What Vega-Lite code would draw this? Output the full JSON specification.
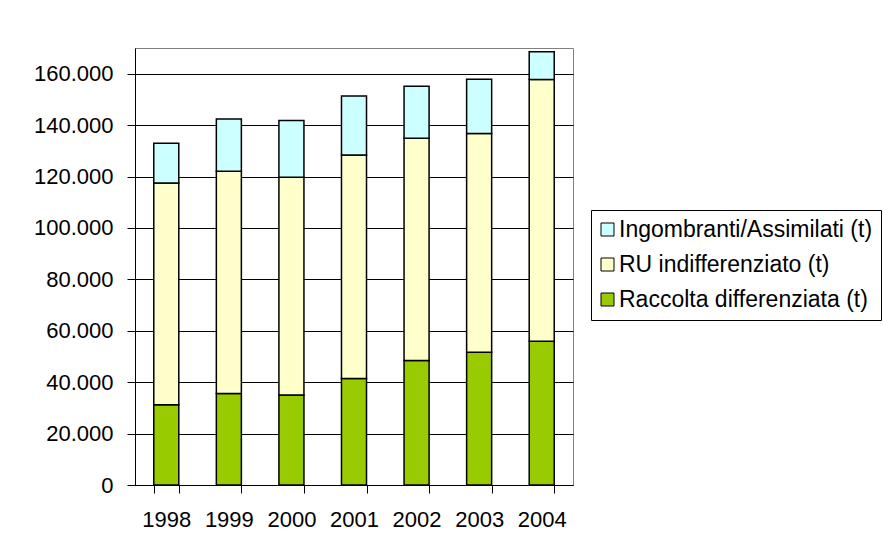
{
  "$schema": "https://vega.github.io/schema/vega-lite/v6.json",
  "autosize": {"type": "none"},
  "padding": {"left": 135, "top": 48, "right": 310, "bottom": 67},
  "width": 438,
  "height": 437,
  "background": "white",
  "config": {
    "locale": {"number": {"decimal": ",", "thousands": ".", "grouping": [3], "currency": ["€", ""]}},
    "font": "Liberation Sans",
    "view": {"stroke": "#808080", "strokeWidth": 1}
  },
  "data": {
    "values": [
      {"anno": "1998", "tipo": "Raccolta differenziata (t)", "ord": 1, "t": 31200},
      {"anno": "1999", "tipo": "Raccolta differenziata (t)", "ord": 1, "t": 35600},
      {"anno": "2000", "tipo": "Raccolta differenziata (t)", "ord": 1, "t": 35000},
      {"anno": "2001", "tipo": "Raccolta differenziata (t)", "ord": 1, "t": 41400},
      {"anno": "2002", "tipo": "Raccolta differenziata (t)", "ord": 1, "t": 48400},
      {"anno": "2003", "tipo": "Raccolta differenziata (t)", "ord": 1, "t": 51600},
      {"anno": "2004", "tipo": "Raccolta differenziata (t)", "ord": 1, "t": 55900},
      {"anno": "1998", "tipo": "RU indifferenziato (t)", "ord": 2, "t": 86300},
      {"anno": "1999", "tipo": "RU indifferenziato (t)", "ord": 2, "t": 86500},
      {"anno": "2000", "tipo": "RU indifferenziato (t)", "ord": 2, "t": 84700},
      {"anno": "2001", "tipo": "RU indifferenziato (t)", "ord": 2, "t": 87000},
      {"anno": "2002", "tipo": "RU indifferenziato (t)", "ord": 2, "t": 86500},
      {"anno": "2003", "tipo": "RU indifferenziato (t)", "ord": 2, "t": 85100},
      {"anno": "2004", "tipo": "RU indifferenziato (t)", "ord": 2, "t": 101800},
      {"anno": "1998", "tipo": "Ingombranti/Assimilati (t)", "ord": 3, "t": 15400},
      {"anno": "1999", "tipo": "Ingombranti/Assimilati (t)", "ord": 3, "t": 20300},
      {"anno": "2000", "tipo": "Ingombranti/Assimilati (t)", "ord": 3, "t": 22100},
      {"anno": "2001", "tipo": "Ingombranti/Assimilati (t)", "ord": 3, "t": 22900},
      {"anno": "2002", "tipo": "Ingombranti/Assimilati (t)", "ord": 3, "t": 20200},
      {"anno": "2003", "tipo": "Ingombranti/Assimilati (t)", "ord": 3, "t": 21100},
      {"anno": "2004", "tipo": "Ingombranti/Assimilati (t)", "ord": 3, "t": 10800}
    ]
  },
  "mark": {"type": "bar", "stroke": "black", "strokeWidth": 1.5},
  "encoding": {
    "x": {
      "field": "anno", "type": "ordinal", "title": null,
      "scale": {"paddingInner": 0.6, "paddingOuter": 0.3},
      "axis": {
        "labelAngle": 0, "labelFontSize": 22, "labelColor": "black",
        "tickBand": "extent", "tickSize": 8, "tickColor": "black",
        "domainColor": "black", "labelPadding": 16, "grid": false
      }
    },
    "y": {
      "field": "t", "type": "quantitative", "title": null, "stack": "zero",
      "scale": {"domain": [0, 170000], "nice": false},
      "axis": {
        "values": [0, 20000, 40000, 60000, 80000, 100000, 120000, 140000, 160000],
        "format": ",d", "labelFontSize": 22, "labelColor": "black",
        "tickSize": 8, "tickColor": "black", "domainColor": "black",
        "labelPadding": 14, "grid": true, "gridColor": "black", "gridOpacity": 1
      }
    },
    "color": {
      "field": "tipo", "type": "nominal",
      "scale": {
        "domain": ["Ingombranti/Assimilati (t)", "RU indifferenziato (t)", "Raccolta differenziata (t)"],
        "range": ["#CCFFFF", "#FFFFCC", "#99CC00"]
      },
      "legend": {
        "title": null, "orient": "none", "legendX": 456, "legendY": 162,
        "symbolType": "square", "symbolSize": 169, "symbolStrokeColor": "black",
        "symbolStrokeWidth": 1, "symbolOpacity": 1, "symbolOffset": -3,
        "labelFontSize": 23, "labelColor": "black", "labelLimit": 500,
        "rowPadding": 11, "padding": 8, "strokeColor": "black",
        "fillColor": "white", "labelOffset": 0
      }
    },
    "order": {"field": "ord", "type": "quantitative"}
  }
}
